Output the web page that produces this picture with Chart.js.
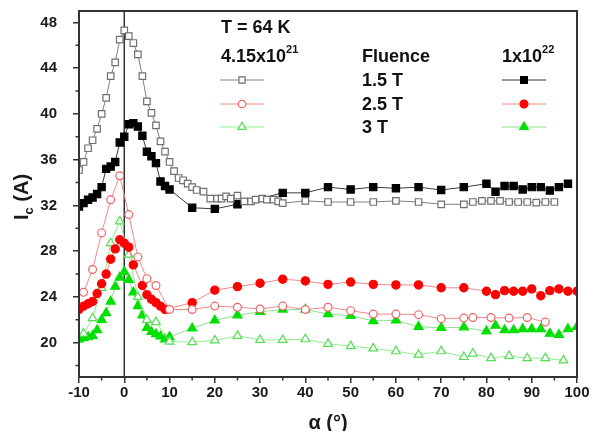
<!DOCTYPE html>
<html>
<head>
<meta charset="utf-8">
<script src="https://cdn.jsdelivr.net/npm/chart.js@4.4.1/dist/chart.umd.min.js"></script>
<style>
html, body { margin: 0; padding: 0; background: #fff; }
#wrap { width: 592px; height: 431px; }
</style>
</head>
<body>
<div id="wrap"><canvas id="icChart" width="592" height="431"></canvas></div>
<script>
// Ic vs angle at T = 64 K, two fluences, three fields

const xTicks = [-10, 0, 10, 20, 30, 40, 50, 60, 70, 80, 90, 100];
const yTicks = [20, 24, 28, 32, 36, 40, 44, 48];

// 1.5 T, fluence 4.15x10^21 (open squares)
const sq415X = [-10,-9,-8,-7,-6,-5,-4,-3,-2,-1,0,1,2,3,4,5,6,7,8,9,10,11,12,13,14,15,16,
  17.5,19,20.5,21.5,22.5,23.5,25,26.5,28,29,30.5,31.5,33,34,35,
  40,45,50,55,60,65,70,75,77,79,81,83,85,87,89,91,93,95];
const sq415Y = [35.1,35.8,37.0,37.7,38.7,40.0,41.4,43.3,44.5,46.5,47.3,46.8,46.2,45.2,43.3,41.1,40.1,39.0,37.6,36.7,35.8,35.0,34.4,34.2,33.9,33.6,33.35,
  33.2,32.6,32.6,32.6,32.8,32.6,32.85,32.35,32.35,32.5,32.6,32.5,32.5,32.35,32.2,
  32.4,32.3,32.3,32.3,32.4,32.3,32.1,32.1,32.3,32.4,32.4,32.4,32.3,32.3,32.3,32.25,32.3,32.3];

// 1.5 T, fluence 1x10^22 (filled squares)
const sq22X = [-10,-9,-8,-7,-6,-5,-4,-3,-2,-1,0,1,2,3,4,5,6,7,8,9,10,
  15,20,25,35,40,45,50,55,60,65,70,75,80,82,84,86,88,90,92,94,96,98];
const sq22Y = [31.9,32.2,32.5,32.7,33.0,33.6,35.2,35.4,35.8,37.5,38.0,39.1,39.2,38.9,38.1,36.7,36.3,35.7,34.1,33.7,33.4,
  31.8,31.7,32.1,33.1,33.1,33.6,33.4,33.6,33.5,33.6,33.35,33.6,33.9,33.2,33.7,33.7,33.4,33.6,33.6,33.3,33.6,33.9];

// 2.5 T, fluence 4.15x10^21 (open circles)
const ci415X = [-9,-7,-5,-3,-1,1,3,5,7,10,15,20,25,30,35,40,45,50,55,60,65,70,75,77,81,85,89,93];
const ci415Y = [24.4,26.4,29.6,32.5,34.6,31.2,27.5,25.6,25.0,22.9,22.9,23.2,23.1,22.95,23.2,22.9,23.1,22.8,22.5,22.5,22.45,22.1,22.15,22.2,22.2,22.15,22.2,21.8];

// 2.5 T, fluence 1x10^22 (filled circles)
const ci22X = [-10,-9,-8,-7,-6,-5,-4,-3,-2,-1,0,1,2,4,5,6,7,8,9,
  15,20,25,30,35,40,45,50,55,60,65,70,75,80,82,84,86,88,90,92,94,96,98,100];
const ci22Y = [22.9,23.2,23.4,23.6,24.3,25.15,26.0,27.3,28.2,29.0,28.7,28.35,26.8,25.0,24.2,23.8,23.5,23.2,22.9,
  23.5,24.6,24.9,25.2,25.55,25.4,25.1,25.3,25.1,25.05,25.05,24.8,24.8,24.5,24.2,24.55,24.5,24.5,24.7,24.1,24.55,24.7,24.5,24.5];

// 3 T, fluence 4.15x10^21 (open triangles)
const tr415X = [-9,-7,-5,-3,-1,1,3,5,7,10,15,20,25,30,35,40,45,50,55,60,65,70,75,77,81,85,89,93,97];
const tr415Y = [20.8,22.15,24.8,28.7,30.6,27.7,24.0,22.0,21.8,20.1,20.05,20.2,20.6,20.25,20.25,20.3,19.9,19.7,19.5,19.25,18.95,19.25,18.75,19.05,18.65,18.85,18.65,18.65,18.45];

// 3 T, fluence 1x10^22 (filled triangles)
const tr22X = [-10,-9,-8,-7,-6,-5,-4,-3,-2,-1,0,1,2,3,4,5,6,7,8,9,10,
  15,20,25,30,35,40,45,50,55,60,65,70,75,80,82,84,86,88,90,92,94,96,98,100];
const tr22Y = [20.3,20.4,20.5,20.6,21.1,22.0,22.6,23.6,24.9,25.7,26.2,25.5,24.4,23.2,22.4,21.3,20.95,20.75,20.55,20.3,20.5,
  21.25,21.95,22.4,22.7,22.9,22.9,22.5,22.35,21.9,21.95,21.4,21.3,21.35,21.0,21.5,21.1,21.1,21.2,21.2,21.2,20.8,20.7,21.2,21.4];

const fieldLabels = ['1.5 T', '2.5 T', '3 T'];

const FONT = '"Liberation Sans", Arial, sans-serif';
const AXIS = '#333333';

function pts(xs, ys) {
    return xs.map((x, i) => ({ x: x, y: ys[i] }));
}

function makeSet(xs, ys, style, r, line, border, fill) {
    return {
        data: pts(xs, ys),
        showLine: true,
        borderColor: line,
        borderWidth: 1,
        tension: 0,
        pointStyle: style,
        pointRadius: r,
        pointBorderColor: border,
        pointBackgroundColor: fill,
        pointBorderWidth: 1.2
    };
}

// Same marker shapes as Chart.js draws them
function drawMarker(ctx, style, x, y, r, stroke, fill) {
    ctx.beginPath();
    if (style === 'rect') {
        const s = Math.SQRT1_2 * r;
        ctx.rect(x - s, y - s, 2 * s, 2 * s);
    } else if (style === 'circle') {
        ctx.arc(x, y, r, 0, Math.PI * 2);
    } else {
        for (let k = 0; k < 3; k++) {
            const a = k * 2 * Math.PI / 3;
            const px = x + Math.sin(a) * r, py = y - Math.cos(a) * r;
            if (k === 0) ctx.moveTo(px, py); else ctx.lineTo(px, py);
        }
        ctx.closePath();
    }
    ctx.fillStyle = fill;
    ctx.fill();
    ctx.strokeStyle = stroke;
    ctx.lineWidth = 1.2;
    ctx.stroke();
}

function textWithSup(ctx, base, sup, x, y) {
    ctx.font = 'bold 18px ' + FONT;
    ctx.fillText(base, x, y);
    const w = ctx.measureText(base).width;
    ctx.font = 'bold 11px ' + FONT;
    ctx.fillText(sup, x + w, y - 9);
}

const decorations = {
    id: 'decorations',
    beforeDatasetsDraw(chart) {
        const ctx = chart.ctx, a = chart.chartArea, xs = chart.scales.x;
        const x0 = xs.getPixelForValue(0);
        ctx.save();
        ctx.strokeStyle = AXIS;
        ctx.lineWidth = 1.5;
        ctx.beginPath();
        ctx.moveTo(x0, a.top);
        ctx.lineTo(x0, a.bottom);
        ctx.stroke();
        ctx.restore();
    },
    afterDraw(chart) {
        const ctx = chart.ctx, a = chart.chartArea;
        const xs = chart.scales.x, ys = chart.scales.y;
        ctx.save();

        // frame
        ctx.strokeStyle = AXIS;
        ctx.lineWidth = 2;
        ctx.strokeRect(a.left, a.top, a.right - a.left, a.bottom - a.top);

        // minor ticks
        ctx.lineWidth = 1.5;
        ctx.beginPath();
        for (let v = -5; v < 100; v += 10) {
            const px = xs.getPixelForValue(v);
            ctx.moveTo(px, a.bottom);
            ctx.lineTo(px, a.bottom + 3.5);
        }
        for (let v = 18; v < 49; v += 4) {
            const py = ys.getPixelForValue(v);
            ctx.moveTo(a.left, py);
            ctx.lineTo(a.left - 3.5, py);
        }
        ctx.stroke();

        // axis titles
        ctx.fillStyle = '#1a1a1a';
        ctx.textBaseline = 'middle';
        ctx.textAlign = 'center';
        ctx.font = 'bold 20px ' + FONT;
        ctx.fillText('\u03B1 (\u00B0)', (a.left + a.right) / 2, 423);

        ctx.save();
        ctx.translate(21, 197);
        ctx.rotate(-Math.PI / 2);
        ctx.textAlign = 'left';
        ctx.textBaseline = 'alphabetic';
        ctx.font = 'bold 20px ' + FONT;
        const wI = ctx.measureText('I').width;
        const wRest = ctx.measureText(' (A)').width;
        ctx.font = 'bold 13px ' + FONT;
        const wc = ctx.measureText('c').width;
        let sx = -(wI + wc + wRest) / 2;
        ctx.font = 'bold 20px ' + FONT;
        ctx.fillText('I', sx, 7);
        ctx.font = 'bold 13px ' + FONT;
        ctx.fillText('c', sx + wI, 12);
        ctx.font = 'bold 20px ' + FONT;
        ctx.fillText(' (A)', sx + wI + wc, 7);
        ctx.restore();

        // legend block
        ctx.textAlign = 'left';
        ctx.textBaseline = 'alphabetic';
        ctx.fillStyle = '#111';
        ctx.font = 'bold 18px ' + FONT;
        ctx.fillText('T = 64 K', 221, 33);
        textWithSup(ctx, '4.15x10', '21', 221, 62);
        ctx.font = 'bold 18px ' + FONT;
        ctx.fillText('Fluence', 362, 62);
        textWithSup(ctx, '1x10', '22', 502, 62);

        const rowsY = [80, 104, 127];
        const sets = chart.data.datasets;
        ctx.font = 'bold 18px ' + FONT;
        fieldLabels.forEach((lab, i) => {
            ctx.fillStyle = '#111';
            ctx.fillText(lab, 362, rowsY[i] + 6);
            [[sets[2 * i], 242], [sets[2 * i + 1], 524]].forEach(([ds, cx]) => {
                ctx.strokeStyle = ds.borderColor;
                ctx.lineWidth = 1;
                ctx.beginPath();
                ctx.moveTo(cx - 22, rowsY[i]);
                ctx.lineTo(cx + 22, rowsY[i]);
                ctx.stroke();
                drawMarker(ctx, ds.pointStyle, cx, rowsY[i], ds.pointRadius * 0.95,
                    ds.pointBorderColor, ds.pointBackgroundColor);
            });
        });
        ctx.restore();
    }
};

const ctx = document.getElementById('icChart').getContext('2d');

new Chart(ctx, {
    type: 'scatter',
    data: {
        datasets: [
            makeSet(sq415X, sq415Y, 'rect', 4.6, '#808080', '#707070', '#ffffff'),
            makeSet(sq22X, sq22Y, 'rect', 5.1, '#3c3c3c', '#000000', '#000000'),
            makeSet(ci415X, ci415Y, 'circle', 3.9, '#f08a8a', '#f06464', '#ffffff'),
            makeSet(ci22X, ci22Y, 'circle', 4.1, '#f08a8a', '#ff0000', '#ff0000'),
            makeSet(tr415X, tr415Y, 'triangle', 5, '#8ef08e', '#55dd55', '#ffffff'),
            makeSet(tr22X, tr22Y, 'triangle', 5.2, '#8ee08e', '#00e000', '#00e000')
        ]
    },
    options: {
        responsive: false,
        animation: false,
        layout: { padding: { top: 11, right: 15, left: 0, bottom: 0 } },
        plugins: {
            legend: { display: false },
            tooltip: { enabled: false }
        },
        scales: {
            x: {
                type: 'linear',
                min: -10,
                max: 100,
                afterBuildTicks: s => { s.ticks = xTicks.map(v => ({ value: v })); },
                afterFit: s => { s.height = 54; s.paddingLeft = 0; s.paddingRight = 0; },
                grid: { drawOnChartArea: false, tickLength: 6, color: AXIS, lineWidth: 1.5 },
                border: { color: AXIS, width: 2 },
                ticks: {
                    padding: 1,
                    color: '#1a1a1a',
                    font: { family: FONT, size: 15, weight: 'bold' }
                }
            },
            y: {
                type: 'linear',
                min: 17,
                max: 49,
                afterBuildTicks: s => { s.ticks = yTicks.map(v => ({ value: v })); },
                afterFit: s => { s.width = 79; s.paddingTop = 0; s.paddingBottom = 0; },
                grid: { drawOnChartArea: false, tickLength: 6, color: AXIS, lineWidth: 1.5 },
                border: { color: AXIS, width: 2 },
                ticks: {
                    padding: 16,
                    color: '#1a1a1a',
                    font: { family: FONT, size: 15, weight: 'bold' }
                }
            }
        }
    },
    plugins: [decorations]
});
</script>
</body>
</html>
